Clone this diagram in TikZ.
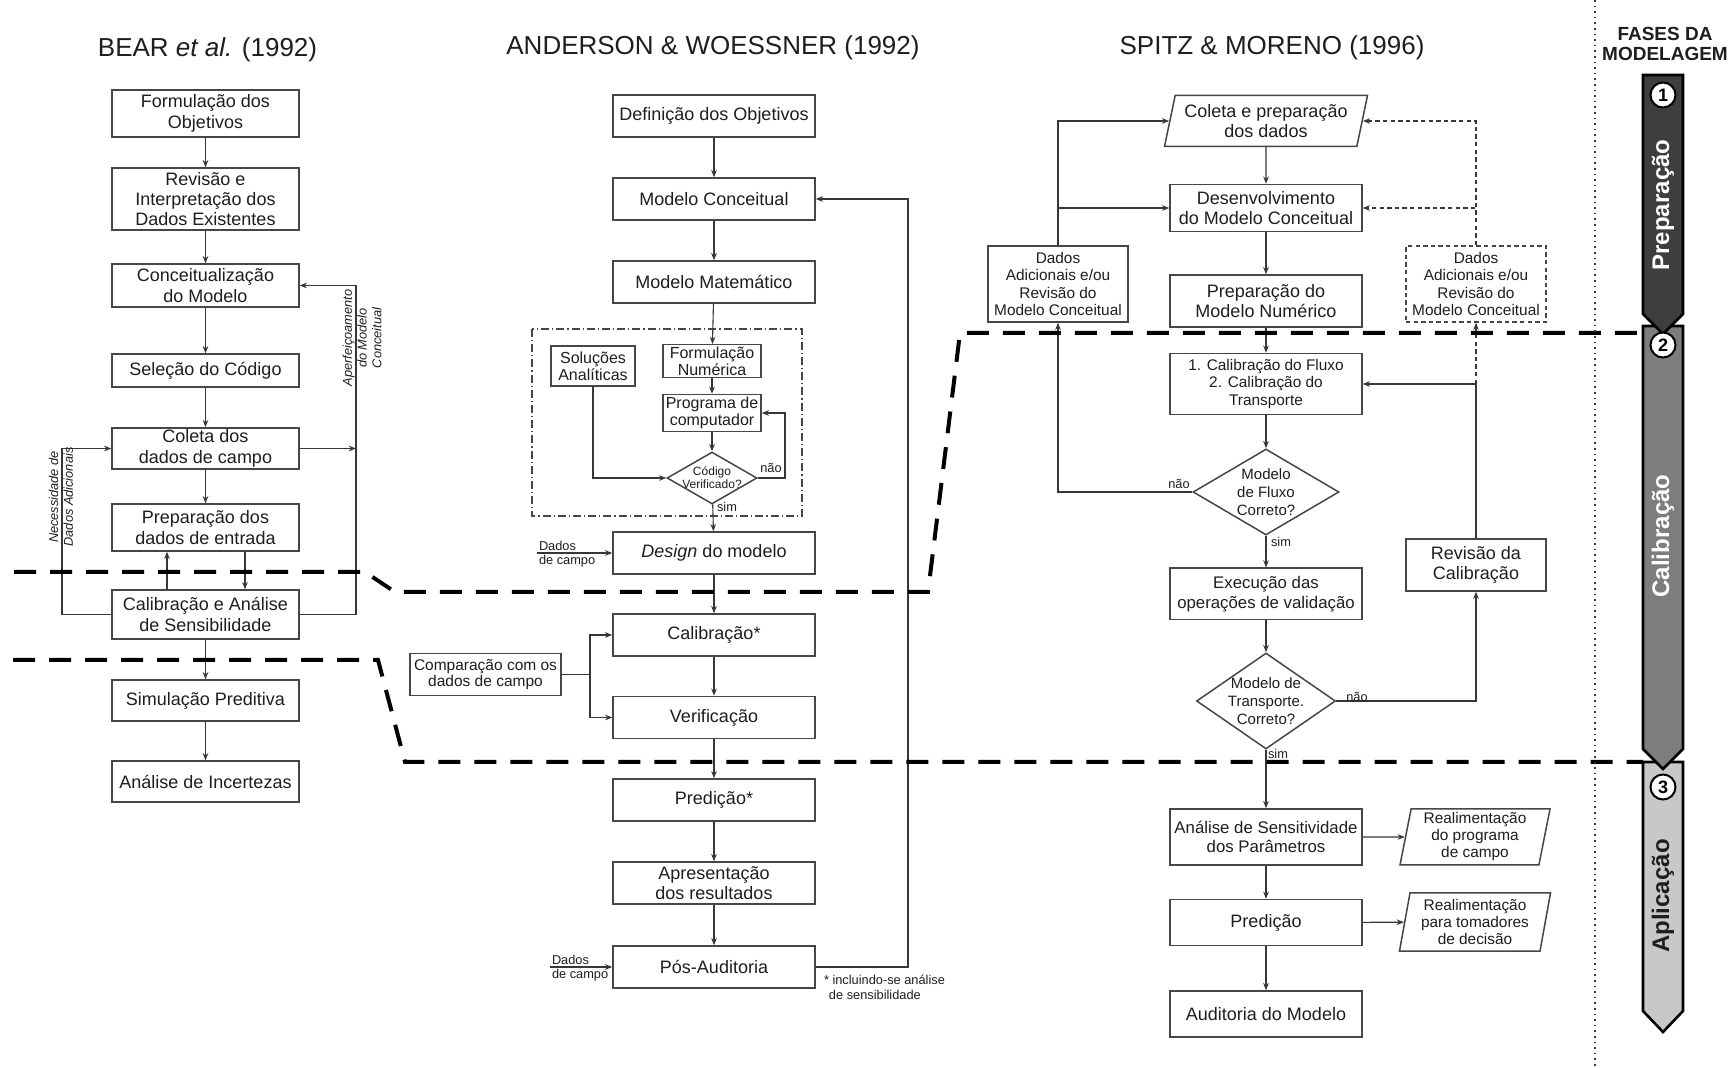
\documentclass[tikz,border=0pt]{standalone}
\usepackage{fontspec}
\setmainfont{Liberation Sans}
\usepackage{xcolor}
\usepackage{tikz}
\usetikzlibrary{
    positioning,
    arrows.meta,
    calc,
    shapes.geometric
}
\definecolor{lineGray}{RGB}{55, 55, 55}
\definecolor{boxGray}{RGB}{70, 70, 70}
\definecolor{textBlack}{RGB}{30, 30, 30}
\definecolor{phaseDark}{RGB}{62, 62, 62}
\definecolor{phaseMid}{RGB}{125, 125, 125}
\definecolor{phaseLight}{RGB}{200, 200, 200}

\begin{document}
\begin{tikzpicture}[x=0.5pt, y=-0.5pt, >={Stealth[length=3.6pt, width=2.8pt]},
    flowBox/.style={draw=boxGray, line width=0.75pt, align=center, inner sep=1pt,
        text=textBlack, font=\fontsize{9}{10.2}\selectfont},
    bearBox/.style={flowBox, minimum width=93.5pt},
    andBox/.style={flowBox, minimum width=101pt, minimum height=21pt, font=\fontsize{9}{9.8}\selectfont},
    spitzBox/.style={flowBox, minimum width=96pt},
    sideBox/.style={flowBox, minimum width=70pt, font=\fontsize{7.7}{8.75}\selectfont},
    innerBox/.style={flowBox, font=\fontsize{8}{8.4}\selectfont},
    ioBox/.style={flowBox, trapezium, trapezium left angle=78, trapezium right angle=102,
        trapezium stretches body, font=\fontsize{7.7}{8.5}\selectfont},
    decision/.style={draw=boxGray, line width=0.75pt, diamond, inner sep=0pt},
    decTxt/.style={align=center, text=textBlack, inner sep=0pt, font=\fontsize{7.5}{8.9}\selectfont},
    flowLine/.style={draw=lineGray, line width=0.55pt},
    dashLine/.style={flowLine, dash pattern=on 2.2pt off 1.6pt},
    tinyTxt/.style={text=textBlack, inner sep=0.8pt, font=\fontsize{6.4}{7.5}\selectfont},
    sideNote/.style={rotate=90, align=center, text=textBlack, inner sep=0pt,
        font=\fontsize{6.4}{7.4}\selectfont\itshape},
    headTxt/.style={text=textBlack, font=\fontsize{13}{15}\selectfont},
    phaseLine/.style={line width=2pt, dash pattern=on 11pt off 7pt},
    phaseBar/.style={draw=black, line width=1.3pt, line join=miter},
    phaseNum/.style={circle, draw=black, fill=white, line width=1pt, minimum size=12.5pt,
        inner sep=0pt, font=\fontsize{9}{9}\selectfont\bfseries},
    phaseTxt/.style={rotate=90, inner sep=0pt, font=\fontsize{12}{12}\selectfont\bfseries}
]
    \fill[white] (0,0) rectangle (1730,1068);
    \useasboundingbox (0,0) rectangle (1730,1068);

    % BEAR et al.
    \node[headTxt] (tBear) at (207.5,50) {BEAR \textit{et al.} (1992)};
    \node[bearBox, minimum height=23.5pt] (b1) at (205.5,113.5) {Formulação dos\\Objetivos};
    \node[bearBox, minimum height=31pt] (b2) at (205.5,199) {Revisão e\\Interpretação dos\\Dados Existentes};
    \node[bearBox, minimum height=21.5pt] (b3) at (205.5,285.5) {Conceitualização\\do Modelo};
    \node[bearBox, minimum height=16.5pt] (b4) at (205.5,370.5) {Seleção do Código};
    \node[bearBox, minimum height=20.5pt] (b5) at (205.5,448.5) {Coleta dos\\dados de campo};
    \node[bearBox, minimum height=23.5pt] (b6) at (205.5,527.5) {Preparação dos\\dados de entrada};
    \node[bearBox, minimum height=24.5pt] (b7) at (205.5,614.5) {Calibração e Análise\\de Sensibilidade};
    \node[bearBox, minimum height=20.5pt] (b8) at (205.5,700.5) {Simulação Preditiva};
    \node[bearBox, minimum height=20.5pt] (b9) at (205.5,781.5) {Análise de Incertezas};

    \draw[flowLine, ->] (b1) -- (b2);
    \draw[flowLine, ->] (b2) -- (b3);
    \draw[flowLine, ->] (b3) -- (b4);
    \draw[flowLine, ->] (b4) -- (b5);
    \draw[flowLine, ->] (b5) -- (b6);
    \draw[flowLine, ->] (b7) -- (b8);
    \draw[flowLine, ->] (b8) -- (b9);
    \coordinate (upX) at (167,0);
    \coordinate (dnX) at (245,0);
    \draw[flowLine, ->] (upX |- b7.north) -- (upX |- b6.south);
    \draw[flowLine, ->] (dnX |- b6.south) -- (dnX |- b7.north);

    % loops
    \coordinate (lLoop) at (62,0);
    \coordinate (rLoop) at (356,0);
    \draw[flowLine, ->] (b7.west) -- (b7.west -| lLoop) -- (b5.west -| lLoop) -- (b5.west);
    \draw[flowLine, ->] (b7.east) -- (b7.east -| rLoop) -- (b3.east -| rLoop) -- (b3.east);
    \draw[flowLine, ->] (b5.east) -- (b5.east -| rLoop);
    \node[sideNote] (necess) at (61,497) {Necessidade de\\Dados Adicionais};
    \node[sideNote] (aperf) at (362,338) {Aperfeiçoamento\\do Modelo\\Conceitual};

    % ANDERSON & WOESSNER
    \node[headTxt] (tAnd) at (713,48) {ANDERSON \& WOESSNER (1992)};
    \node[andBox] (a1) at (714,116) {Definição dos Objetivos};
    \node[andBox] (a2) at (714,199) {Modelo Conceitual};
    \node[andBox] (a3) at (714,282) {Modelo Matemático};
    \draw[boxGray, line width=0.6pt, dash pattern=on 4pt off 1.5pt on 0.6pt off 1.5pt]
        (532,329) rectangle (802,516);
    \node[innerBox, minimum width=42pt, minimum height=20pt] (sol) at (593,366) {Soluções\\Analíticas};
    \node[innerBox, minimum width=49pt, minimum height=16.25pt] (form) at (712,361) {Formulação\\Numérica};
    \node[innerBox, minimum width=49pt, minimum height=18.5pt] (prog) at (712,413) {Programa de\\computador};
    \node[decision, minimum width=45pt, minimum height=26pt] (cv) at (712,478) {};
    \node[decTxt, font=\fontsize{6}{6.6}\selectfont] (cvt) at (cv) {Código\\Verificado?};
    \node[andBox] (a4) at (714,553) {\textit{Design} do modelo};
    \node[andBox] (a5) at (714,635) {Calibração*};
    \node[andBox] (a6) at (714,717.5) {Verificação};
    \node[andBox] (a7) at (714,800) {Predição*};
    \node[andBox] (a8) at (714,883) {Apresentação\\dos resultados};
    \node[andBox] (a9) at (714,967) {Pós-Auditoria};
    \node[flowBox, minimum width=75.5pt, minimum height=21pt, font=\fontsize{7.75}{8.4}\selectfont]
        (comp) at (485.5,674.5) {Comparação com os\\dados de campo};

    \draw[flowLine, ->] (a1) -- (a2);
    \draw[flowLine, ->] (a2) -- (a3);
    \draw[flowLine, ->] (a3) -- (form);
    \draw[flowLine, ->] (form) -- (prog);
    \draw[flowLine, ->] (prog) -- (cv);
    \draw[flowLine, ->] (cv) -- (a4);
    \draw[flowLine, ->] (sol.south) |- (cv.west);
    \coordinate (nLoop) at (785,0);
    \draw[flowLine, ->] (cv.east) -- (cv.east -| nLoop) |- (prog.east);
    \node[tinyTxt] (nao1) at (771,468) {não};
    \node[tinyTxt] (sim1) at (727,507) {sim};
    \draw[flowLine, ->] (a4) -- (a5);
    \draw[flowLine, ->] (a5) -- (a6);
    \draw[flowLine, ->] (a6) -- (a7);
    \draw[flowLine, ->] (a7) -- (a8);
    \draw[flowLine, ->] (a8) -- (a9);
    \coordinate (cJoin) at (590,0);
    \draw[flowLine] (comp.east) -- (comp.east -| cJoin);
    \draw[flowLine, ->] (comp.east -| cJoin) |- (a5.west);
    \draw[flowLine, ->] (comp.east -| cJoin) |- (a6.west);
    \coordinate (fbX) at (908,0);
    \draw[flowLine, ->] (a9.east) -- (a9.east -| fbX) -- (a2.east -| fbX) -- (a2.east);

    % field data inputs
    \coordinate (dcA) at (537,553);
    \node[tinyTxt, anchor=south west] (dcA1) at (dcA) {Dados};
    \node[tinyTxt, anchor=north west] (dcA2) at (dcA) {de campo};
    \draw[flowLine, ->] (dcA) -- (a4.west);
    \coordinate (dcB) at (550,967);
    \node[tinyTxt, anchor=south west] (dcB1) at (dcB) {Dados};
    \node[tinyTxt, anchor=north west] (dcB2) at (dcB) {de campo};
    \draw[flowLine, ->] (dcB) -- (a9.west);
    \node[tinyTxt, align=left, anchor=north west] (foot) at (822,973)
        {* incluindo-se análise\\\phantom{*}de sensibilidade};

    % SPITZ & MORENO
    \node[headTxt] (tSpitz) at (1272,48) {SPITZ \& MORENO (1996)};
    \node[ioBox, trapezium left angle=74, trapezium right angle=106, minimum width=101.5pt,
        minimum height=25.5pt, font=\fontsize{9}{10}\selectfont] (s1) at (1266,121) {Coleta e preparação\\dos dados};
    \node[spitzBox, minimum height=23.5pt] (s2) at (1266,208) {Desenvolvimento\\do Modelo Conceitual};
    \node[spitzBox, minimum height=26pt] (s3) at (1266,301) {Preparação do\\Modelo Numérico};
    \node[spitzBox, minimum height=30.5pt, font=\fontsize{7.7}{8.75}\selectfont] (s4) at (1266,384)
        {1. Calibração do Fluxo\\2. Calibração do\\Transporte};
    \node[decision, minimum width=73pt, minimum height=43pt] (d1) at (1266,492) {};
    \node[decTxt] (d1t) at (d1) {Modelo\\de Fluxo\\Correto?};
    \node[spitzBox, minimum height=25.75pt, font=\fontsize{8.4}{9.8}\selectfont] (s5) at (1266,594)
        {Execução das\\operações de validação};
    \node[decision, minimum width=69.5pt, minimum height=48pt] (d2) at (1266,701) {};
    \node[decTxt] (d2t) at (d2) {Modelo de\\Transporte.\\Correto?};
    \node[spitzBox, minimum height=28pt, font=\fontsize{8.4}{9.8}\selectfont] (s6) at (1266,837)
        {Análise de Sensitividade\\dos Parâmetros};
    \node[spitzBox, minimum height=23pt] (s7) at (1266,922.6) {Predição};
    \node[spitzBox, minimum height=23pt] (s8) at (1266,1014) {Auditoria do Modelo};
    \node[sideBox, minimum height=38pt] (dl) at (1058,284) {Dados\\Adicionais e/ou\\Revisão do\\Modelo Conceitual};
    \node[sideBox, minimum height=38pt, dash pattern=on 2.2pt off 1.6pt] (dr) at (1476,284)
        {Dados\\Adicionais e/ou\\Revisão do\\Modelo Conceitual};
    \node[sideBox, minimum height=26pt, font=\fontsize{9}{10.2}\selectfont] (rev) at (1476,565)
        {Revisão da\\Calibração};
    \node[ioBox, minimum width=75pt, minimum height=28pt] (p1) at (1475,837) {Realimentação\\do programa\\de campo};
    \node[ioBox, minimum width=75.5pt, minimum height=29pt] (p2) at (1475,922) {Realimentação\\para tomadores\\de decisão};

    \draw[flowLine, ->] (s1) -- (s2);
    \draw[flowLine, ->] (s2) -- (s3);
    \draw[flowLine, ->] (s3) -- (s4);
    \draw[flowLine, ->] (s4) -- (d1);
    \draw[flowLine, ->] (d1) -- (s5);
    \draw[flowLine, ->] (s5) -- (d2);
    \draw[flowLine, ->] (d2) -- (s6);
    \draw[flowLine, ->] (s6) -- (s7);
    \draw[flowLine, ->] (s7) -- (s8);
    \draw[flowLine, ->] (s6) -- (p1);
    \draw[flowLine, ->] (s7) -- (p2);
    \draw[flowLine, ->] (d1.west) -| (dl.south);
    \draw[flowLine, ->] (dl.north) |- (s1.west);
    \draw[flowLine, ->] (dl.north) |- (s2.west);
    \draw[dashLine, ->] (dr.north) |- (s1.east);
    \draw[dashLine, ->] (dr.north) |- (s2.east);
    \draw[flowLine, ->] (d2.east) -| (rev.south);
    \draw[flowLine, ->] (rev.north) |- (s4.east);
    \draw[dashLine, ->] (rev.north |- s4.east) -- (dr.south);
    \node[tinyTxt] (nao2) at (1179,484) {não};
    \node[tinyTxt] (sim2) at (1281,542) {sim};
    \node[tinyTxt] (nao3) at (1357,697) {não};
    \node[tinyTxt] (sim3) at (1278,754) {sim};

    % phase boundaries
    \draw[phaseLine] (14,572) -- (365,572) -- (395,592) -- (928,592) -- (960,333) -- (1643,333);
    \draw[phaseLine] (13,660) -- (378,660) -- (405,762) -- (1643,762);
    \draw[lineGray, dotted, line width=0.8pt] (1595,0) -- (1595,1068);

    % phases bar
    \node[align=center, text=textBlack, font=\fontsize{9.5}{10}\selectfont\bfseries] (fases) at (1665,44)
        {FASES DA\\MODELAGEM};
    \filldraw[phaseBar, fill=phaseLight] (1643,762) -- (1683,762) -- (1683,1011) -- (1663,1032) -- (1643,1011) -- cycle;
    \filldraw[phaseBar, fill=phaseMid] (1643,326) -- (1683,326) -- (1683,749) -- (1663,769) -- (1643,749) -- cycle;
    \filldraw[phaseBar, fill=phaseDark] (1643,75) -- (1683,75) -- (1683,314) -- (1663,334) -- (1643,314) -- cycle;
    \node[phaseNum] (n1) at (1663,95) {1};
    \node[phaseNum] (n2) at (1663,345) {2};
    \node[phaseNum] (n3) at (1663,787) {3};
    \node[phaseTxt, text=white] (prep) at (1663,205) {Preparação};
    \node[phaseTxt, text=white] (calib) at (1663,536) {Calibração};
    \node[phaseTxt, text=textBlack] (aplic) at (1663,896) {Aplicação};
\end{tikzpicture}
\end{document}
